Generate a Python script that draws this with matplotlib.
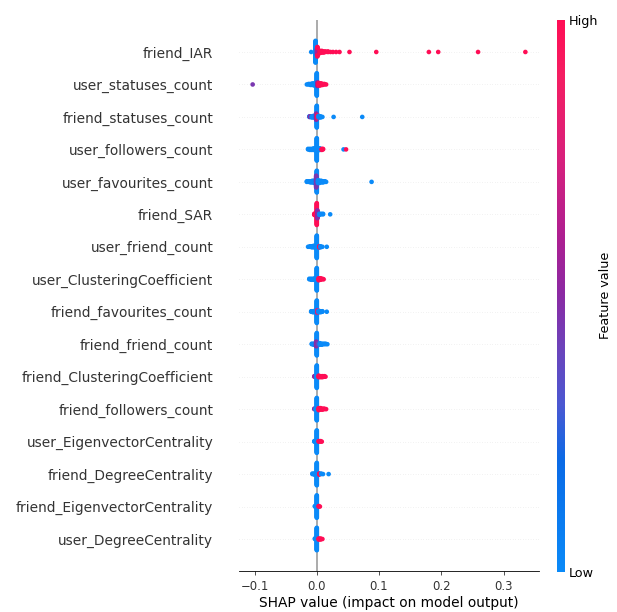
import numpy as np
import matplotlib
matplotlib.use("Agg")
import matplotlib.pyplot as plt
from matplotlib.cm import ScalarMappable
from matplotlib.colors import LinearSegmentedColormap, Normalize

#--------------------DATA------------------------#
# features from top row to bottom row
features = ["friend_IAR", "user_statuses_count", "friend_statuses_count",
            "user_followers_count", "user_favourites_count", "friend_SAR",
            "user_friend_count", "user_ClusteringCoefficient",
            "friend_favourites_count", "friend_friend_count",
            "friend_ClusteringCoefficient", "friend_followers_count",
            "user_EigenvectorCentrality", "friend_DegreeCentrality",
            "friend_EigenvectorCentrality", "user_DegreeCentrality"]

# each entry: (shap value, feature value scaled 0=low..1=high, number of samples)
friend_IAR = [(-0.009, 0.0, 1), (-0.002, 0.0, 40), (0.0005, 0.6, 12), (0.001, 1.0, 6),
              (0.005, 1.0, 5), (0.008, 1.0, 4), (0.011, 1.0, 3), (0.014, 1.0, 2),
              (0.018, 1.0, 2), (0.022, 1.0, 1), (0.026, 1.0, 1), (0.031, 1.0, 1),
              (0.0365, 1.0, 1), (0.0525, 1.0, 1), (0.0955, 1.0, 1),
              (0.180, 1.0, 1), (0.195, 1.0, 1), (0.259, 1.0, 1), (0.335, 1.0, 1)]
user_statuses_count = [(-0.103, 0.45, 1), (-0.016, 0.0, 1), (-0.013, 0.0, 2), (-0.010, 0.0, 3),
                       (-0.007, 0.0, 4), (-0.004, 0.0, 5), (-0.002, 0.0, 6), (0.000, 0.0, 45),
                       (0.001, 0.5, 8), (0.003, 1.0, 6), (0.005, 1.0, 5), (0.007, 1.0, 4),
                       (0.009, 1.0, 3), (0.012, 1.0, 2), (0.015, 1.0, 1)]
friend_statuses_count = [(-0.012, 0.0, 2), (-0.011, 0.5, 2), (-0.008, 0.0, 3), (-0.005, 0.0, 4),
                         (-0.002, 0.0, 5), (0.000, 0.0, 40), (-0.001, 0.5, 12), (0.001, 1.0, 6),
                         (0.003, 0.0, 4), (0.006, 0.0, 3), (0.009, 0.0, 1), (0.027, 0.0, 1),
                         (0.073, 0.0, 1)]
user_followers_count = [(-0.014, 0.0, 2), (-0.011, 0.0, 3), (-0.008, 0.0, 3), (-0.005, 0.0, 4),
                        (-0.002, 0.0, 5), (0.000, 0.0, 45), (0.002, 0.0, 5), (0.005, 0.0, 4),
                        (0.008, 1.0, 3), (0.010, 1.0, 2), (0.043, 0.0, 1), (0.047, 1.0, 1)]
user_favourites_count = [(-0.016, 0.0, 2), (-0.013, 0.0, 2), (-0.010, 0.0, 3), (-0.007, 0.0, 4),
                         (-0.004, 0.0, 5), (-0.002, 0.0, 6), (0.000, 0.0, 40), (-0.001, 0.45, 22),
                         (0.002, 0.0, 6), (0.004, 0.0, 5), (0.007, 0.0, 4), (0.010, 0.0, 3),
                         (0.013, 0.0, 2), (0.015, 0.0, 1), (0.088, 0.0, 1)]
friend_SAR = [(-0.004, 1.0, 3), (-0.002, 1.0, 5), (0.000, 1.0, 40), (0.001, 0.5, 15),
              (0.004, 0.0, 3), (0.007, 0.0, 2), (0.010, 0.0, 2), (0.0215, 0.0, 1)]
user_friend_count = [(-0.014, 0.0, 1), (-0.011, 0.0, 2), (-0.008, 0.0, 3), (-0.005, 0.0, 4),
                     (-0.002, 0.0, 5), (0.000, 0.0, 45), (0.002, 0.0, 5), (0.004, 1.0, 3),
                     (0.006, 0.0, 3), (0.009, 0.0, 1), (0.016, 0.0, 1)]
user_ClusteringCoefficient = [(-0.012, 0.0, 2), (-0.009, 0.0, 3), (-0.006, 0.0, 3), (-0.003, 0.0, 4),
                              (0.000, 0.0, 45), (0.003, 1.0, 5), (0.006, 1.0, 4), (0.009, 1.0, 2),
                              (0.011, 1.0, 1)]
friend_favourites_count = [(-0.009, 0.0, 2), (-0.006, 0.0, 3), (-0.003, 0.0, 4), (0.000, 0.0, 45),
                           (0.001, 0.8, 6), (0.003, 0.0, 4), (0.006, 0.0, 3), (0.009, 0.0, 2),
                           (0.016, 0.0, 1)]
friend_friend_count = [(-0.008, 0.0, 2), (-0.005, 0.0, 3), (-0.002, 0.0, 4), (0.000, 0.0, 45),
                       (-0.001, 0.5, 10), (0.002, 0.4, 4), (0.005, 0.0, 4), (0.008, 0.0, 3),
                       (0.011, 0.0, 2), (0.014, 0.0, 2), (0.017, 0.0, 1)]
friend_ClusteringCoefficient = [(-0.004, 0.5, 2), (0.000, 0.0, 45), (0.003, 1.0, 4), (0.006, 1.0, 3),
                                (0.009, 1.0, 3), (0.012, 1.0, 2), (0.014, 1.0, 1)]
friend_followers_count = [(-0.004, 0.5, 2), (-0.002, 0.0, 3), (0.000, 0.0, 45), (0.003, 1.0, 5),
                          (0.006, 1.0, 4), (0.009, 1.0, 3), (0.012, 1.0, 2), (0.015, 1.0, 1)]
user_EigenvectorCentrality = [(-0.004, 0.0, 2), (-0.002, 0.0, 3), (0.000, 0.0, 45), (0.003, 1.0, 2),
                              (0.006, 1.0, 2), (0.008, 1.0, 1)]
friend_DegreeCentrality = [(-0.007, 0.0, 2), (-0.004, 0.0, 3), (-0.002, 0.0, 4), (0.000, 0.0, 45),
                           (0.002, 0.0, 4), (0.004, 1.0, 3), (0.007, 0.0, 2), (0.010, 0.0, 1),
                           (0.019, 0.0, 1)]
friend_EigenvectorCentrality = [(-0.003, 0.0, 2), (0.000, 0.0, 45), (0.003, 1.0, 2), (0.005, 1.0, 1)]
user_DegreeCentrality = [(-0.003, 0.0, 2), (0.000, 0.0, 45), (0.003, 1.0, 3), (0.006, 1.0, 3),
                         (0.009, 1.0, 1)]

rows = [friend_IAR, user_statuses_count, friend_statuses_count, user_followers_count,
        user_favourites_count, friend_SAR, user_friend_count, user_ClusteringCoefficient,
        friend_favourites_count, friend_friend_count, friend_ClusteringCoefficient,
        friend_followers_count, user_EigenvectorCentrality, friend_DegreeCentrality,
        friend_EigenvectorCentrality, user_DegreeCentrality]

# low -> high colour stops of the feature value scale
cmap_stops = [(0.0, "#0a8af8"), (0.2, "#0a6ae6"), (0.3, "#4a58d2"), (0.4, "#6a44bc"),
              (0.5, "#8a2aa4"), (0.6, "#ab1f92"), (0.75, "#d8207c"), (0.9, "#f41e62"),
              (1.0, "#ff0d55")]


#--------------------FUNCTIONS------------------------#
def swarm_offsets(shaps, row_height=0.4, nbins=100):
    quant = np.round(nbins * (shaps - shaps.min()) / (shaps.max() - shaps.min() + 1e-8))
    inds = np.argsort(quant, kind="stable")
    ys = np.zeros(len(shaps))
    layer = 0
    last_bin = -1
    for ind in inds:
        if quant[ind] != last_bin:
            layer = 0
        ys[ind] = np.ceil(layer / 2) * ((layer % 2) * 2 - 1)
        layer += 1
        last_bin = quant[ind]
    return ys * 0.9 * (row_height / np.max(ys + 1))


#---------------------------------PLOTTING----------------------#
cmap = LinearSegmentedColormap.from_list("red_blue", cmap_stops)
axis_color = "#333333"
n = len(features)

fig = plt.figure(figsize=(6.17, 6.12), dpi=100)
ax = fig.add_axes([0.3874, 0.0662, 0.4862, 0.9019])

ax.axvline(x=0, color="#999999", lw=1.15, zorder=-1)

for i, row in enumerate(rows):
    pos = n - 1 - i
    ax.axhline(y=pos, color="#cccccc", lw=0.4, dashes=(0.8, 3.8), zorder=-1)
    shaps = np.repeat([r[0] for r in row], [r[2] for r in row])
    fvals = np.repeat([r[1] for r in row], [r[2] for r in row])
    ys = swarm_offsets(shaps)
    ax.scatter(shaps, pos + ys, c=fvals, cmap=cmap, vmin=0, vmax=1,
               s=11, linewidth=0, zorder=3)

ax.set_yticks(range(n))
ax.set_yticklabels(features[::-1], fontsize=9.9, color=axis_color)
ax.set_ylim(-1, n)
ax.yaxis.set_ticks_position("none")
ax.tick_params("y", length=0, pad=18.5)
ax.xaxis.set_ticks_position("bottom")
ax.tick_params("x", labelsize=8.4, color=axis_color, labelcolor=axis_color, width=0.6, length=2.7)
for side in ["right", "top", "left"]:
    ax.spines[side].set_visible(False)
ax.spines["bottom"].set_linewidth(0.6)
ax.set_xlabel("SHAP value (impact on model output)", fontsize=9.9, labelpad=2)

# colorbar
cax = fig.add_axes([0.9032, 0.0659, 0.0125, 0.9015])
cb = fig.colorbar(ScalarMappable(norm=Normalize(0, 1), cmap=cmap), cax=cax, ticks=[0, 1])
cb.set_ticklabels(["Low", "High"])
cb.ax.tick_params(labelsize=9.2, length=0, pad=3)
cb.set_label("Feature value", size=9.2, labelpad=0)
cb.outline.set_visible(False)

fig.savefig("out.png", dpi=100)
